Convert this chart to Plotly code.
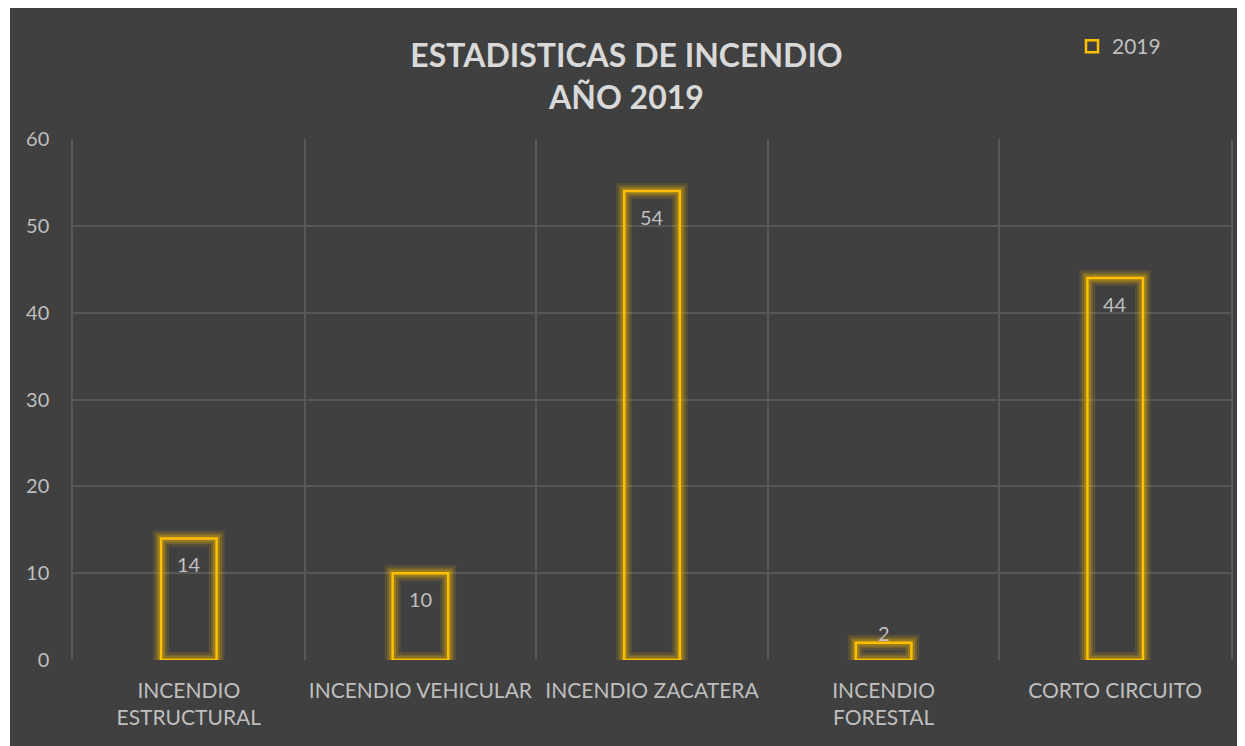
import plotly.graph_objects as go

categories = ["INCENDIO<br>ESTRUCTURAL", "INCENDIO VEHICULAR", "INCENDIO ZACATERA",
              "INCENDIO<br>FORESTAL", "CORTO CIRCUITO"]
values_2019 = [14, 10, 54, 2, 44]
series_name = "2019"
y_ticks = [0, 10, 20, 30, 40, 50, 60]

BG = "#404040"
GOLD = "#FFC000"
TXT = "#BFBFBF"
GRID = "#585858"
FONT = "Lato"

# page has an 8px body margin; figure sized to fit the window
W, H = 1237, 738
ML, MR, MT, MB = 65, 14, 131, 86
PW, PH = W - ML - MR, H - MT - MB

fig = go.Figure()

# glow layers
for width, alpha in [(16, 0.12), (11, 0.18), (7, 0.26)]:
    fig.add_trace(go.Bar(
        x=categories, y=values_2019, width=0.24,
        marker=dict(color="rgba(0,0,0,0)", line=dict(color=f"rgba(255,192,0,{alpha})", width=width)),
        showlegend=False, hoverinfo="skip",
    ))

fig.add_trace(go.Bar(
    x=categories, y=values_2019, width=0.24, name=series_name,
    marker=dict(color="rgba(0,0,0,0)", line=dict(color=GOLD, width=2.5)),
))

annotations = []
for c, v in zip(categories, values_2019):
    small = v < 5
    annotations.append(dict(
        x=c, y=v, xref="x", yref="y", text=str(v), showarrow=False,
        yanchor="bottom" if small else "top",
        yshift=-4 if small else -12,
        font=dict(family=FONT, size=20, color=TXT),
    ))

shapes = [
    dict(type="rect", xref="paper", yref="paper", layer="above",
         x0=-ML / PW, x1=(2 - ML) / PW, y0=-MB / PH, y1=1 + MT / PH,
         fillcolor="white", line=dict(width=0)),
]

fig.update_layout(
    width=W, height=H,
    margin=dict(l=ML, r=MR, t=MT, b=MB, autoexpand=False),
    paper_bgcolor=BG, plot_bgcolor=BG,
    barmode="overlay",
    title=dict(text="<b>ESTADISTICAS DE INCENDIO<br>AÑO 2019</b>",
               x=0.5, xanchor="center", y=1 - 59 / H, yanchor="middle",
               font=dict(family=FONT, size=32, color="#D9D9D9")),
    legend=dict(x=(1072 - 8 - ML) / PW, y=1 + (MT - 18) / PH, xanchor="left", yanchor="top",
                font=dict(family=FONT, size=21, color=TXT), bgcolor="rgba(0,0,0,0)"),
    annotations=annotations,
    shapes=shapes,
    font=dict(family=FONT, color=TXT),
)
fig.update_xaxes(
    type="category", tickson="boundaries", showgrid=True, gridcolor=GRID, gridwidth=1.5,
    ticks="", tickfont=dict(family=FONT, size=21, color=TXT), showline=False, zeroline=False,
    ticklabelstandoff=16, tickangle=0, automargin=False,
)
fig.update_yaxes(
    range=[0, 60], tickvals=y_ticks, showgrid=True, gridcolor=GRID, gridwidth=1.5,
    zeroline=False, showline=True, mirror=True, linecolor=GRID, linewidth=1.5,
    ticks="", ticklabelstandoff=18, automargin=False,
    tickfont=dict(family=FONT, size=20, color=TXT),
)

fig.write_html("out.html")
